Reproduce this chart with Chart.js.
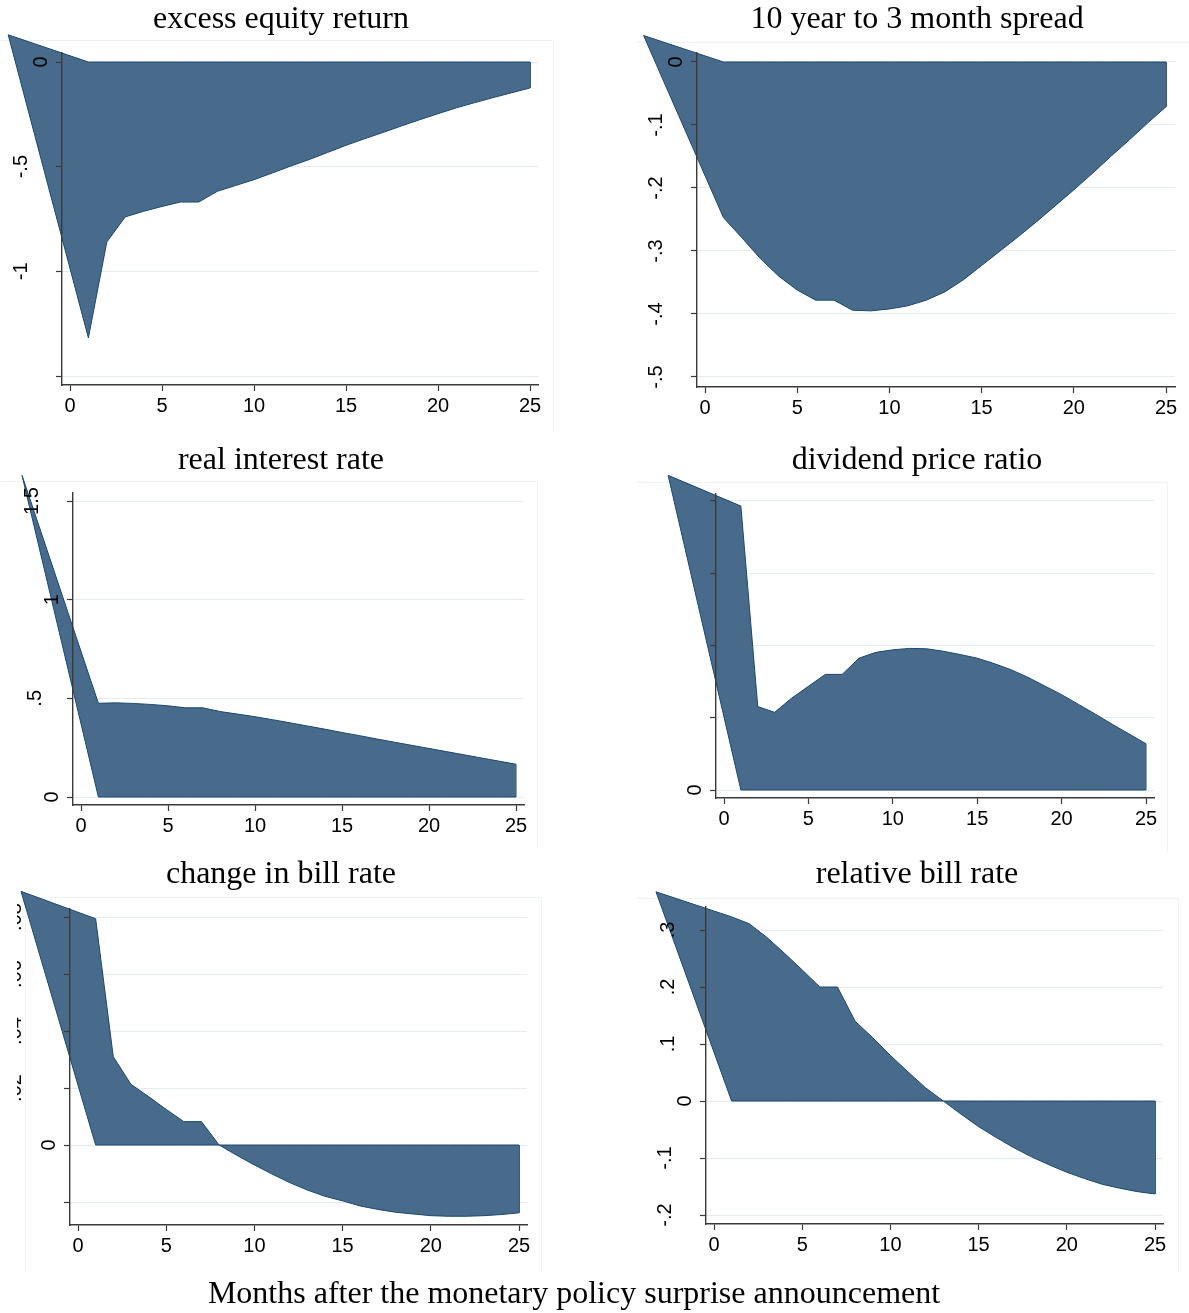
<!DOCTYPE html>
<html>
<head>
<meta charset="utf-8">
<title>Impulse responses to a monetary policy surprise</title>
<script src="https://cdn.jsdelivr.net/npm/chart.js@4/dist/chart.umd.min.js"></script>
<style>
  html, body { margin: 0; padding: 0; background: #ffffff; }
  #stage { position: relative; width: 1189px; height: 1313px; overflow: hidden; }
  #stage canvas { position: absolute; left: 0; top: 0; }
</style>
</head>
<body>
<div id="stage"></div>
<script>
// ---------- data ----------
const months = [1, 2, 3, 4, 5, 6, 7, 8, 9, 10, 11, 12, 13, 14, 15, 16, 17, 18, 19, 20, 21, 22, 23, 24, 25];
const xTickValues = [0, 5, 10, 15, 20, 25];
const xTickLabels = ['0', '5', '10', '15', '20', '25'];

// excess equity return
const equityLead = [-3.36, 0.13];
const equityReturn = [-1.318, -0.86, -0.74, -0.713, -0.69, -0.669, -0.669, -0.618, -0.59, -0.562,
  -0.53, -0.497, -0.466, -0.432, -0.398, -0.367, -0.337, -0.306, -0.276, -0.247,
  -0.219, -0.194, -0.17, -0.147, -0.124];
const equityTicks = [-1.5, -1, -0.5, 0];
const equityTickLabels = ['', '-1', '-.5', '0'];

// 10 year to 3 month spread
const spreadLead = [-3.33, 0.042];
const spreadResponse = [-0.247, -0.279, -0.312, -0.34, -0.362, -0.378, -0.378, -0.394, -0.395, -0.392,
  -0.387, -0.378, -0.365, -0.346, -0.323, -0.3, -0.277, -0.253, -0.228, -0.203,
  -0.177, -0.15, -0.124, -0.097, -0.071];
const spreadTicks = [-0.5, -0.4, -0.3, -0.2, -0.1, 0];
const spreadTickLabels = ['-.5', '-.4', '-.3', '-.2', '-.1', '0'];

// real interest rate
const realRateLead = [-3.39, 1.63];
const realRateResponse = [0.475, 0.477, 0.474, 0.469, 0.462, 0.452, 0.452, 0.433, 0.42, 0.407,
  0.392, 0.376, 0.36, 0.344, 0.327, 0.311, 0.294, 0.278, 0.262, 0.246,
  0.23, 0.214, 0.198, 0.182, 0.166];
const realRateTicks = [0, 0.5, 1, 1.5];
const realRateTickLabels = ['0', '.5', '1', '1.5'];

// dividend price ratio
const dpLead = [-3.31, 0.00871];
const dpResponse = [0.00786, 0.00231, 0.00215, 0.00254, 0.00287, 0.0032, 0.0032, 0.00365, 0.00381, 0.00388,
  0.00392, 0.00391, 0.00384, 0.00375, 0.00365, 0.0035, 0.00333, 0.00312, 0.00288, 0.00264,
  0.00237, 0.0021, 0.00182, 0.00155, 0.00128];
const dpTicks = [0, 0.002, 0.004, 0.006, 0.008];
const dpTickLabels = ['0', '', '', '', ''];

// change in bill rate
const billChangeLead = [-3.23, 0.089];
const billChangeResponse = [0.0794, 0.031, 0.0213, 0.017, 0.0125, 0.0082, 0.0082, 0, -0.0036, -0.007,
  -0.0102, -0.0132, -0.0158, -0.018, -0.0196, -0.0214, -0.0226, -0.0236, -0.0242, -0.0248,
  -0.025, -0.025, -0.0248, -0.0244, -0.0238];
const billChangeTicks = [-0.02, 0, 0.02, 0.04, 0.06, 0.08];
const billChangeTickLabels = ['', '0', '.02', '.04', '.06', '.08'];

// relative bill rate
const relBillLead = [-3.29, 0.367];
const relBillResponse = [0.323, 0.311, 0.287, 0.259, 0.23, 0.2, 0.2, 0.14, 0.111, 0.08,
  0.051, 0.023, 0, -0.023, -0.045, -0.064, -0.082, -0.098, -0.112, -0.125,
  -0.136, -0.146, -0.153, -0.159, -0.163];
const relBillTicks = [-0.2, -0.1, 0, 0.1, 0.2, 0.3];
const relBillTickLabels = ['-.2', '-.1', '0', '.1', '.2', '.3'];

const axisCaption = 'Months after the monetary policy surprise announcement';

// ---------- styling and layout ----------
const W = 1189, H = 1313;
const X_BAND = 40;              // height reserved under each plot for the month labels
const FILL = 'rgb(72,107,139)';
const EDGE = 'rgb(26,71,111)';
const AXIS = '#3a3a3a';
const GRID = '#e3ebee';
const FRAME = '#edf2f4';
const SANS = "'Liberation Sans', Arial, sans-serif";
const SERIF = "'Liberation Serif', 'Times New Roman', serif";

const panels = [
  { title: 'excess equity return', lead: equityLead, values: equityReturn,
    yTicks: equityTicks, yLabels: equityTickLabels,
    titleX: 281, titleY: 28, area: [62, 53, 538.5, 385], xPx: [70, 530], yRef: [[0, 62], [-1.5, 376]],
    frame: [[0, 40, 553, 40], [553, 40, 553, 432]], longGap: 41 },
  { title: '10 year to 3 month spread', lead: spreadLead, values: spreadResponse,
    yTicks: spreadTicks, yLabels: spreadTickLabels,
    titleX: 917, titleY: 28, area: [697, 53, 1175, 387], xPx: [705, 1166], yRef: [[0, 62], [-0.5, 377]],
    frame: [[636, 42, 1189, 42]], longGap: 41 },
  { title: 'real interest rate', lead: realRateLead, values: realRateResponse,
    yTicks: realRateTicks, yLabels: realRateTickLabels,
    titleX: 281, titleY: 469, area: [73, 493, 524, 805], xPx: [81, 516], yRef: [[0, 797], [1.5, 501]],
    frame: [[0, 481, 537, 481], [537, 481, 537, 848]], longGap: 41 },
  { title: 'dividend price ratio', lead: dpLead, values: dpResponse,
    yTicks: dpTicks, yLabels: dpTickLabels,
    titleX: 917, titleY: 469, area: [716, 494, 1154, 798], xPx: [724, 1146], yRef: [[0, 790], [0.008, 501]],
    frame: [[636, 482, 1167, 482], [1167, 482, 1167, 853]], longGap: 41 },
  { title: 'change in bill rate', lead: billChangeLead, values: billChangeResponse,
    yTicks: billChangeTicks, yLabels: billChangeTickLabels,
    titleX: 281, titleY: 883, area: [70, 909, 527, 1225], xPx: [78, 519], yRef: [[0, 1145], [0.08, 917]],
    frame: [[25, 897, 541, 897], [541, 897, 541, 1272], [25, 897, 25, 1272]], longGap: 55, clipLeft: 17 },
  { title: 'relative bill rate', lead: relBillLead, values: relBillResponse,
    yTicks: relBillTicks, yLabels: relBillTickLabels,
    titleX: 917, titleY: 883, area: [706, 907, 1163, 1224], xPx: [714, 1155], yRef: [[0.3, 930], [0, 1101]],
    frame: [[636, 898, 1178, 898], [1178, 898, 1178, 1272]], longGap: 41, caption: true }
];

// linear map from a pixel span to a value span, anchored at two reference ticks
function valueRange(px0, v0, px1, v1, pa, pb) {
  const k = (v1 - v0) / (px1 - px0);
  return [v0 + (pa - px0) * k, v0 + (pb - px0) * k];
}

// lets the band reach past the plot box (it starts left of the y axis)
const openFill = {
  id: 'openFill',
  beforeDatasetsDraw(chart) {
    chart.$plotArea = chart.chartArea;
    chart.chartArea = { left: 0, top: 0, right: chart.width, bottom: chart.height,
                        width: chart.width, height: chart.height };
  },
  afterDatasetsDraw(chart) {
    if (chart.$plotArea) chart.chartArea = chart.$plotArea;
  }
};

function buildPanel(p) {
  const canvas = document.createElement('canvas');
  canvas.width = W; canvas.height = H;
  document.getElementById('stage').appendChild(canvas);

  const [left, top, right, bottom] = p.area;
  const [xMin, xMax] = valueRange(p.xPx[0], 0, p.xPx[1], 25, left, right);
  const [yMin, yMax] = valueRange(p.yRef[0][1], p.yRef[0][0], p.yRef[1][1], p.yRef[1][0], bottom, top);

  const lead = { x: p.lead[0], y: p.lead[1] };
  const baseline = [lead, ...months.map(m => ({ x: m, y: 0 }))];
  const response = [lead, ...months.map((m, i) => ({ x: m, y: p.values[i] }))];
  const n = months.length - 1;
  const closingEdge = [{ x: months[n], y: 0 }, { x: months[n], y: p.values[n] }];

  const decor = {
    id: 'panelDecor',
    beforeDraw(chart) {
      const ctx = chart.ctx;
      ctx.save();
      ctx.strokeStyle = FRAME;
      ctx.lineWidth = 1;
      p.frame.forEach(([x1, y1, x2, y2]) => {
        ctx.beginPath(); ctx.moveTo(x1 + 0.5, y1 + 0.5); ctx.lineTo(x2 + 0.5, y2 + 0.5); ctx.stroke();
      });
      ctx.restore();
    },
    afterDraw(chart) {
      const ctx = chart.ctx;
      const ys = chart.scales.y;
      const axisX = chart.chartArea.left;

      // panel title
      ctx.save();
      ctx.fillStyle = '#000';
      ctx.font = '32px ' + SERIF;
      ctx.textAlign = 'center';
      ctx.textBaseline = 'alphabetic';
      ctx.fillText(p.title, p.titleX, p.titleY);
      if (p.caption) ctx.fillText(axisCaption, 574, 1303);
      ctx.restore();

      // vertical y tick labels, reading bottom to top
      ctx.save();
      if (p.clipLeft != null) {
        ctx.beginPath(); ctx.rect(p.clipLeft, 0, W, H); ctx.clip();
      }
      ctx.fillStyle = '#000';
      ctx.font = '20px ' + SANS;
      ctx.textAlign = 'center';
      ctx.textBaseline = 'middle';
      p.yTicks.forEach((v, i) => {
        const label = p.yLabels[i];
        if (!label) return;
        const gap = label.length === 1 ? 21 : (label.length === 2 && label[0] === '.') ? 37.5 : p.longGap;
        ctx.save();
        ctx.translate(axisX - gap, ys.getPixelForValue(v));
        ctx.rotate(-Math.PI / 2);
        ctx.fillText(label, 0, 0);
        ctx.restore();
      });
      ctx.restore();
    }
  };

  const yTickBuilder = s => { s.ticks = p.yTicks.map(v => ({ value: v })); };

  return new Chart(canvas, {
    type: 'line',
    data: {
      datasets: [
        { data: baseline, borderColor: EDGE, borderWidth: 1, fill: false, clip: false },
        { data: response, borderColor: EDGE, borderWidth: 1, backgroundColor: FILL, fill: '-1', clip: false },
        { data: closingEdge, borderColor: EDGE, borderWidth: 1, fill: false, clip: false }
      ]
    },
    plugins: [openFill, decor],
    options: {
      responsive: false,
      animation: false,
      devicePixelRatio: 1,
      events: [],
      layout: { padding: { left: left, top: top, right: W - right, bottom: H - bottom - X_BAND } },
      elements: { point: { radius: 0 }, line: { tension: 0 } },
      plugins: { legend: { display: false }, tooltip: { enabled: false }, title: { display: false } },
      scales: {
        x: {
          type: 'linear', position: 'bottom', min: xMin, max: xMax,
          afterBuildTicks: s => { s.ticks = xTickValues.map(v => ({ value: v })); },
          afterFit: s => { s.height = X_BAND; },
          ticks: { color: '#000', font: { family: SANS, size: 20 }, padding: 3,
                   maxRotation: 0, autoSkip: false, callback: (v, i) => xTickLabels[i] },
          grid: { drawOnChartArea: false, drawTicks: true, tickLength: 6, tickColor: AXIS, tickWidth: 1.2 },
          border: { display: true, color: AXIS, width: 1.4 }
        },
        y: {
          type: 'linear', position: 'left', min: yMin, max: yMax,
          afterBuildTicks: yTickBuilder,
          afterFit: s => { s.width = 0; },
          ticks: { display: false },
          grid: { color: GRID, lineWidth: 1, drawTicks: false, drawOnChartArea: true },
          border: { display: false }
        },
        yAxis: {
          type: 'linear', position: 'left', min: yMin, max: yMax,
          afterBuildTicks: yTickBuilder,
          afterFit: s => { s.width = 0; },
          ticks: { display: false },
          grid: { drawOnChartArea: false, drawTicks: true, tickLength: 6, tickColor: AXIS, tickWidth: 1.2, z: 1 },
          border: { display: true, color: AXIS, width: 1.4, z: 1 }
        }
      }
    }
  });
}

panels.forEach(buildPanel);
</script>
</body>
</html>
